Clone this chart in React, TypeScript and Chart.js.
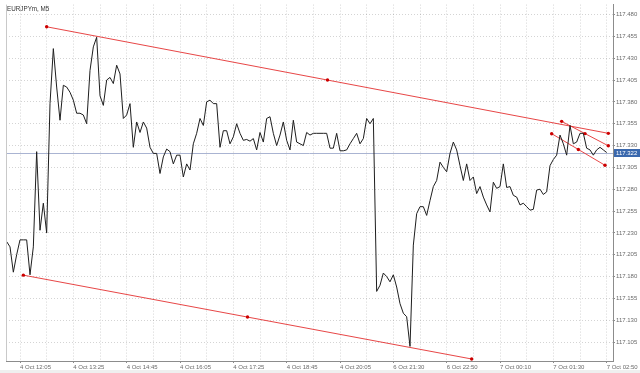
import { useEffect, useRef } from 'react';
import { Chart, registerables } from 'chart.js';

Chart.register(...registerables);

const symbolTitle = 'EURJPYm, M5';
const currentPrice = 117.322;
const currentPriceLabel = '117.322';

// bar index of first close (4 Oct 11:45); bar 0 = 4 Oct 12:05
const firstBarIndex = -4;

// one close per M5 bar, Friday 11:45 → 20:55, then Sunday 21:05 → Monday 02:50
const closePrices = [
  117.220, 117.214, 117.185, 117.205, 117.222, 117.222, 117.222, 117.182, 117.214, 117.323,
  117.233, 117.264, 117.230, 117.378, 117.441, 117.397, 117.359, 117.399, 117.397, 117.391,
  117.382, 117.367, 117.367, 117.365, 117.355, 117.416, 117.443, 117.454, 117.387, 117.376,
  117.405, 117.408, 117.401, 117.422, 117.412, 117.361, 117.365, 117.378, 117.328, 117.357,
  117.345, 117.357, 117.350, 117.328, 117.321, 117.321, 117.298, 117.317, 117.326, 117.323,
  117.309, 117.319, 117.319, 117.294, 117.309, 117.302, 117.332, 117.344, 117.361, 117.353,
  117.380, 117.382, 117.378, 117.378, 117.328, 117.347, 117.347, 117.332, 117.340, 117.355,
  117.344, 117.336, 117.337, 117.335, 117.338, 117.325, 117.345, 117.334, 117.361, 117.363,
  117.344, 117.330, 117.342, 117.357, 117.336, 117.325, 117.359, 117.334, 117.332, 117.330,
  117.345, 117.342, 117.344, 117.344, 117.344, 117.344, 117.344, 117.327, 117.327, 117.344,
  117.324, 117.324, 117.325, 117.332, 117.338, 117.344, 117.332, 117.338, 117.361, 117.355,
  117.361,
  117.163, 117.170, 117.184, 117.180, 117.174, 117.182, 117.168, 117.149, 117.138,
  117.134, 117.100, 117.216, 117.252, 117.260, 117.260, 117.250, 117.267, 117.283, 117.290,
  117.311, 117.305, 117.300, 117.321, 117.334, 117.325, 117.307, 117.290, 117.309, 117.290,
  117.294, 117.275, 117.283, 117.271, 117.262, 117.254, 117.288, 117.281, 117.283, 117.309,
  117.282, 117.283, 117.273, 117.271, 117.262, 117.264, 117.260, 117.256, 117.257, 117.279,
  117.280, 117.274, 117.277, 117.307, 117.314, 117.319, 117.342, 117.332, 117.319, 117.353,
  117.332, 117.334, 117.344, 117.344, 117.327, 117.325, 117.319, 117.325, 117.328, 117.325,
  117.322,
];

// trend lines: start, middle handle, end  (x = bar index, y = price)
const upperTrendLine = [
  { x: 8, y: 117.466 },
  { x: 92.25, y: 117.405 },
  { x: 176.5, y: 117.344 },
];
const lowerTrendLine = [
  { x: 1, y: 117.1816 },
  { x: 68.25, y: 117.1336 },
  { x: 135.5, y: 117.0856 },
];
const channelUpperLine = [
  { x: 162.5, y: 117.3577 },
  { x: 169.5, y: 117.3437 },
  { x: 176.5, y: 117.3297 },
];
const channelLowerLine = [
  { x: 159.5, y: 117.3436 },
  { x: 167.5, y: 117.3255 },
  { x: 175.5, y: 117.3074 },
];

const timeTickLabels = [
  '4 Oct 12:05', '4 Oct 13:25', '4 Oct 14:45', '4 Oct 16:05', '4 Oct 17:25', '4 Oct 18:45',
  '4 Oct 20:05', '6 Oct 21:30', '6 Oct 22:50', '7 Oct 00:10', '7 Oct 01:30', '7 Oct 02:50',
];
const barsPerLabel = 16;
const barsPerGrid = 8;

const priceTickLabels = [
  '117.105', '117.130', '117.155', '117.180', '117.205', '117.230', '117.255', '117.280',
  '117.305', '117.330', '117.355', '117.380', '117.405', '117.430', '117.455', '117.480',
];

const X_MIN = -4.2;
const X_MAX = 177.9;
const Y_MIN = 117.0833;
const Y_MAX = 117.4914;

const FONT = 'Liberation Sans, Arial, sans-serif';

export default function App() {
  const canvasRef = useRef<HTMLCanvasElement | null>(null);

  useEffect(() => {
    const canvas = canvasRef.current;
    if (!canvas) return;

    const xTickValues: number[] = [];
    for (let i = 0; i <= (timeTickLabels.length - 1) * 2; i++) xTickValues.push(i * barsPerGrid);
    const yTickValues = priceTickLabels.map((s) => parseFloat(s));

    const decorPlugin = {
      id: 'decor',
      beforeDraw(chart: any) {
        const { ctx, width, height } = chart;
        ctx.save();
        ctx.fillStyle = '#ffffff';
        ctx.fillRect(0, 0, width, height);
        ctx.fillStyle = '#efefef';
        ctx.fillRect(0, height - 3, width, 3);
        ctx.restore();
      },
      beforeDatasetsDraw(chart: any) {
        const { ctx, chartArea, scales } = chart;
        const y = Math.round(scales.y.getPixelForValue(currentPrice)) + 0.5;
        ctx.save();
        ctx.strokeStyle = '#aab4d2';
        ctx.lineWidth = 1;
        ctx.beginPath();
        ctx.moveTo(chartArea.left, y);
        ctx.lineTo(chartArea.right, y);
        ctx.stroke();
        ctx.restore();
      },
      afterDraw(chart: any) {
        const { ctx, chartArea, scales, width } = chart;
        ctx.save();
        // left frame
        ctx.strokeStyle = '#c9c9c9';
        ctx.lineWidth = 1;
        ctx.beginPath();
        ctx.moveTo(chartArea.left + 0.5, chartArea.top);
        ctx.lineTo(chartArea.left + 0.5, chartArea.bottom);
        ctx.stroke();
        // title
        ctx.fillStyle = '#333333';
        ctx.font = `6.3px ${FONT}`;
        ctx.textBaseline = 'middle';
        ctx.textAlign = 'left';
        ctx.fillText(symbolTitle, chartArea.left + 1, 9);
        // current price box
        const y = Math.round(scales.y.getPixelForValue(currentPrice));
        const bx = chartArea.right + 1;
        ctx.fillStyle = '#3a68ad';
        ctx.fillRect(bx, y - 4, width - bx, 8);
        ctx.fillStyle = '#ffffff';
        ctx.font = `6px ${FONT}`;
        ctx.fillText(currentPriceLabel, bx + 2, y + 0.5);
        ctx.restore();
      },
    };

    const trendStyle = {
      borderColor: 'rgba(228,50,50,0.9)',
      borderWidth: 1,
      pointRadius: 1.7,
      pointBackgroundColor: '#cc0000',
      pointBorderWidth: 0,
      tension: 0,
    };

    const chart = new Chart(canvas, {
      type: 'line',
      data: {
        datasets: [
          {
            data: closePrices.map((v, i) => ({ x: firstBarIndex + i, y: v })),
            borderColor: '#1e1e1e',
            borderWidth: 1,
            pointRadius: 0,
            tension: 0,
          },
          { data: upperTrendLine, ...trendStyle },
          { data: lowerTrendLine, ...trendStyle },
          { data: channelUpperLine, ...trendStyle },
          { data: channelLowerLine, ...trendStyle },
        ] as any,
      },
      options: {
        responsive: false,
        animation: false,
        events: [],
        layout: { padding: { left: 6, top: 4, right: 0, bottom: 0 } },
        plugins: {
          legend: { display: false },
          tooltip: { enabled: false },
          title: { display: false },
        },
        scales: {
          x: {
            type: 'linear',
            min: X_MIN,
            max: X_MAX,
            afterBuildTicks: (s: any) => {
              s.ticks = xTickValues.map((v) => ({ value: v }));
            },
            afterFit: (s: any) => {
              s.height = 12;
            },
            ticks: {
              autoSkip: false,
              maxRotation: 0,
              minRotation: 0,
              align: 'start',
              padding: 1,
              color: '#6a6a6a',
              font: { family: FONT, size: 6 },
              callback: (_v: any, index: number) =>
                index % (barsPerLabel / barsPerGrid) === 0 ? timeTickLabels[index / 2] : '',
            },
            grid: {
              color: 'rgba(0,0,0,0.17)',
              lineWidth: 1,
              tickLength: 2,
              tickColor: (ctx: any) => (ctx.index % 2 === 0 ? '#8c8c8c' : 'rgba(0,0,0,0)'),
            },
            border: { display: true, color: '#8c8c8c', width: 1, dash: [1, 2] },
          },
          y: {
            type: 'linear',
            position: 'right',
            min: Y_MIN,
            max: Y_MAX,
            afterBuildTicks: (s: any) => {
              s.ticks = yTickValues.map((v) => ({ value: v }));
            },
            afterFit: (s: any) => {
              s.width = 27;
            },
            ticks: {
              autoSkip: false,
              padding: 1,
              color: '#6a6a6a',
              font: { family: FONT, size: 6 },
              callback: (_v: any, index: number) => priceTickLabels[index],
            },
            grid: {
              color: 'rgba(0,0,0,0.17)',
              lineWidth: 1,
              tickLength: 2,
              tickColor: '#8c8c8c',
            },
            border: { display: true, color: '#8c8c8c', width: 1, dash: [1, 2] },
          },
        },
      } as any,
      plugins: [decorPlugin],
    });

    return () => chart.destroy();
  }, []);

  return (
    <div style={{ position: 'fixed', left: 0, top: 0, width: 640, height: 373 }}>
      <canvas ref={canvasRef} width={640} height={373} style={{ display: 'block' }} />
    </div>
  );
}
